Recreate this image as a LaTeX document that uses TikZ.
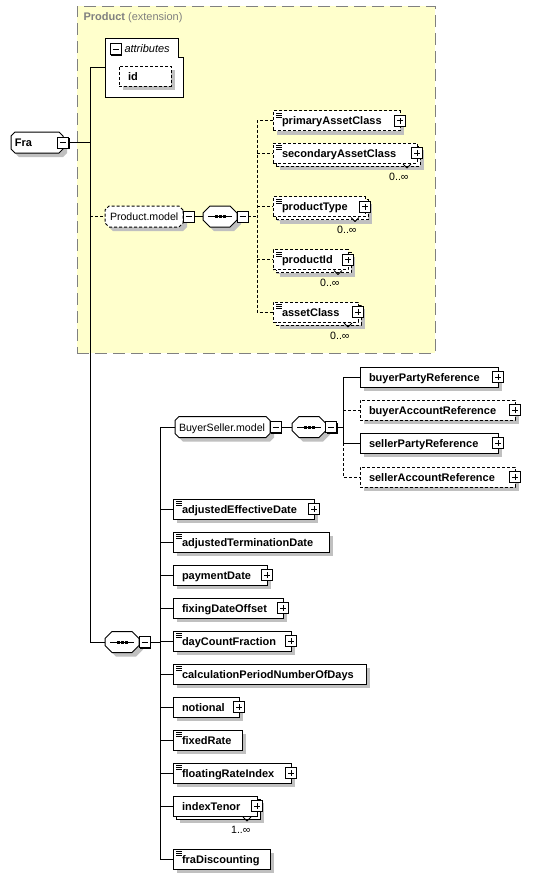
\documentclass[tikz,border=0pt]{standalone}
\usepackage{fontspec}
\setmainfont{Liberation Sans}
\usetikzlibrary{shapes.misc, shadows}

\definecolor{extfill}{HTML}{FFFFCC}
\definecolor{extline}{HTML}{808080}
\definecolor{shade}{HTML}{C0C0C0}

\tikzset{
  wd/.code={\pgfmathsetmacro\elboxw{#1}\pgfmathsetmacro\eltextw{#1-2*\pgfkeysvalueof{/pgf/inner xsep}}%
    \tikzset{minimum width/.expanded=\elboxw, text width/.expanded=\eltextw pt}},
  sh/.style={general shadow={fill=shade, shadow xshift=4, shadow yshift=4}},
  opt/.style={dash pattern=on 3pt off 2pt},
  el/.style={draw, fill=white, sh, anchor=west, outer sep=0, inner xsep=9, inner ysep=0,
    minimum height=20, align=left, text height=9, text depth=1,
    font=\fontsize{11}{13}\selectfont\bfseries},
  simple/.style={path picture={\foreach \k in {2.5,4.5,6.5}
    \draw[solid, line width=0.8] ([xshift=3, yshift=-\k]path picture bounding box.north west) -- ++(6,0);}},
  many/.style={general shadow={fill=shade, shadow xshift=7, shadow yshift=7},
    general shadow={draw, fill=white, shadow xshift=3, shadow yshift=3},
    append after command={([xshift=-14,yshift=-1]\tikzlastnode.south east) edge[solid, line width=0.8] ([xshift=-10,yshift=-5]\tikzlastnode.south east)
      ([xshift=-10,yshift=-5]\tikzlastnode.south east) edge[solid, line width=0.8] ([xshift=-6,yshift=-1]\tikzlastnode.south east)}},
  mult/.style={anchor=east, inner sep=0, text height=7, text depth=1, font=\fontsize{10.6}{12}\selectfont},
  grp/.style={chamfered rectangle, chamfered rectangle xsep=2, chamfered rectangle ysep=2,
    draw, fill=white, sh, anchor=west, outer sep=0, inner ysep=0,
    align=left, text height=12.5, text depth=4.5, font=\fontsize{10.6}{12}\selectfont},
  seq/.style={grp, inner xsep=0, wd=27, text height=7, text depth=7,
    chamfered rectangle xsep=3.5, chamfered rectangle ysep=3.5,
    path picture={\draw ([xshift=5]path picture bounding box.west) -- ([xshift=-5]path picture bounding box.east);
      \foreach \d in {-4,0,4} \fill[black] ([xshift=\d-1.5, yshift=-1.5]path picture bounding box.center) rectangle ++(3,-3);}},
  pm/.style={draw, fill=white, solid, minimum size=11, inner sep=0, outer sep=0},
  plus/.style={pm, path picture={\draw ([xshift=-3]path picture bounding box.center) -- ([xshift=3]path picture bounding box.center)
    ([yshift=-3]path picture bounding box.center) -- ([yshift=3]path picture bounding box.center);}},
  minus/.style={pm, general shadow={fill=black, shadow xshift=1, shadow yshift=1},
    path picture={\draw ([xshift=-3]path picture bounding box.center) -- ([xshift=3]path picture bounding box.center);}},
  ext/.style={draw=extline, fill=extfill, dash pattern=on 12pt off 6pt, anchor=north west, outer sep=0, inner sep=0},
}

\begin{document}
\begin{tikzpicture}[x=1pt, y=-1pt, line width=1pt]
\fill[white] (0,0) rectangle (543,879);
\useasboundingbox (0,0) rectangle (543,879);

% Product extension
\node[ext, minimum width=358, minimum height=347] (ext) at (77,6) {};
\node[anchor=west, inner sep=0, text=extline, font=\fontsize{11}{13}\selectfont] (extt) at (83,18) {\textbf{Product} (extension)};

\node[grp, inner xsep=2, wd=48, font=\fontsize{11}{13}\selectfont\bfseries] (fra) at (11,142.5) {Fra};
\node[minus] (fram) at (fra.east) {};

\node[anchor=north west, outer sep=0, minimum width=78, minimum height=59] (attr) at (105,38) {};
\draw[fill=white] (attr.south west) |- ([xshift=-5]attr.north east) |- ([yshift=-19]attr.north east) -- (attr.south east) -- cycle;
\node[minus] (attrm) at (115.5,49) {};
\node[anchor=west, inner sep=0, font=\fontsize{11}{13}\selectfont\itshape] (attrt) at (124,49) {attributes};
\node[el, opt, wd=52] (id) at (119,76) {id};

\node[grp, opt, inner xsep=3, wd=74] (pmod) at (105,216.5) {Product.model};
\node[minus] (pmodm) at ([xshift=5.5]pmod.east) {};
\node[seq] (sq1) at (203,216.5) {};
\node[minus] (sq1m) at ([xshift=5.5]sq1.east) {};

\node[el, opt, simple, wd=127] (pac) at (273,120.5) {primaryAssetClass};
\node[plus] (pacp) at (pac.east) {};
\node[el, opt, simple, many, wd=144] (sac) at (273,153) {secondaryAssetClass};
\node[plus] (sacp) at (sac.east) {};
\node[mult] (sacm) at ([xshift=-8,yshift=-14]sac.south east) {0..∞};
\node[el, opt, simple, many, wd=92] (ptyp) at (273,206.5) {productType};
\node[plus] (ptypp) at (ptyp.east) {};
\node[mult] (ptypm) at ([xshift=-8,yshift=-14]ptyp.south east) {0..∞};
\node[el, opt, simple, many, wd=75] (pid) at (273,259.5) {productId};
\node[plus] (pidp) at (pid.east) {};
\node[mult] (pidm) at ([xshift=-8,yshift=-14]pid.south east) {0..∞};
\node[el, opt, simple, many, wd=85] (acl) at (273,312) {assetClass};
\node[plus] (aclp) at (acl.east) {};
\node[mult] (aclm) at ([xshift=-8,yshift=-14]acl.south east) {0..∞};

% BuyerSeller
\node[grp, inner xsep=2, wd=91] (bsm) at (175,427) {BuyerSeller.model};
\node[minus] (bsmm) at ([xshift=5.5]bsm.east) {};
\node[seq] (sq3) at (292,427) {};
\node[minus] (sq3m) at ([xshift=5]sq3.east) {};
\node[el, wd=138] (bpr) at (360,377) {buyerPartyReference};
\node[plus] (bprp) at (bpr.east) {};
\node[el, opt, wd=155] (bar) at (360,410) {buyerAccountReference};
\node[plus] (barp) at (bar.east) {};
\node[el, wd=138] (spr) at (360,443) {sellerPartyReference};
\node[plus] (sprp) at (spr.east) {};
\node[el, opt, wd=155] (sar) at (360,477) {sellerAccountReference};
\node[plus] (sarp) at (sar.east) {};

% Fra sequence
\node[seq] (sq2) at (105,642) {};
\node[minus] (sq2m) at ([xshift=5.5]sq2.east) {};
\node[el, simple, wd=141] (aed) at (173,509) {adjustedEffectiveDate};
\node[plus] (aedp) at (aed.east) {};
\node[el, simple, wd=156] (atd) at (173,542) {adjustedTerminationDate};
\node[el, wd=94] (pd) at (173,575) {paymentDate};
\node[plus] (pdp) at (pd.east) {};
\node[el, wd=110] (fdo) at (173,608) {fixingDateOffset};
\node[plus] (fdop) at (fdo.east) {};
\node[el, simple, wd=118] (dcf) at (173,641) {dayCountFraction};
\node[plus] (dcfp) at (dcf.east) {};
\node[el, simple, wd=193] (cpn) at (173,674) {calculationPeriodNumberOfDays};
\node[el, wd=66] (ntl) at (173,707) {notional};
\node[plus] (ntlp) at (ntl.east) {};
\node[el, simple, wd=69] (frt) at (173,740) {fixedRate};
\node[el, simple, wd=118] (fri) at (173,773) {floatingRateIndex};
\node[plus] (frip) at (fri.east) {};
\node[el, many, wd=84] (itn) at (173,806) {indexTenor};
\node[plus] (itnp) at (itn.east) {};
\node[mult] (itnm) at ([xshift=-6,yshift=-14]itn.south east) {1..∞};
\node[el, simple, wd=97] (fdi) at (173,859) {fraDiscounting};

% Connectors
\coordinate (trk) at (90,0);
\coordinate (br1) at (257,0);
\coordinate (br2) at (160,0);
\coordinate (br3) at (343,0);
\draw (fram.east) -- (fram.east -| trk);
\draw (attr.west) -| (trk |- sq2.west) -- (sq2.west);
\draw[opt] (trk |- pmod.west) -- (pmod.west);
\draw (pmodm.east) -- (sq1.west);
\draw[opt] (sq1m.east) -- (sq1m.east -| br1);
\draw[opt] (pac.west) -| (br1 |- acl.west) -- (acl.west);
\draw[opt] (br1 |- sac.west) -- (sac.west);
\draw[opt] (br1 |- ptyp.west) -- (ptyp.west);
\draw[opt] (br1 |- pid.west) -- (pid.west);
\draw (sq2m.east) -- (sq2m.east -| br2);
\draw (bsm.west) -| (br2 |- fdi.west) -- (fdi.west);
\foreach \n in {aed,atd,pd,fdo,dcf,cpn,ntl,frt,fri,itn}
  \draw (br2 |- \n.west) -- (\n.west);
\draw (bsmm.east) -- (sq3.west);
\draw (sq3m.east) -- (sq3m.east -| br3);
\draw (bpr.west) -| (br3 |- spr.west) -- (spr.west);
\draw[opt] (br3 |- spr.west) |- (sar.west);
\draw[opt] (br3 |- bar.west) -- (bar.west);
\end{tikzpicture}
\end{document}
